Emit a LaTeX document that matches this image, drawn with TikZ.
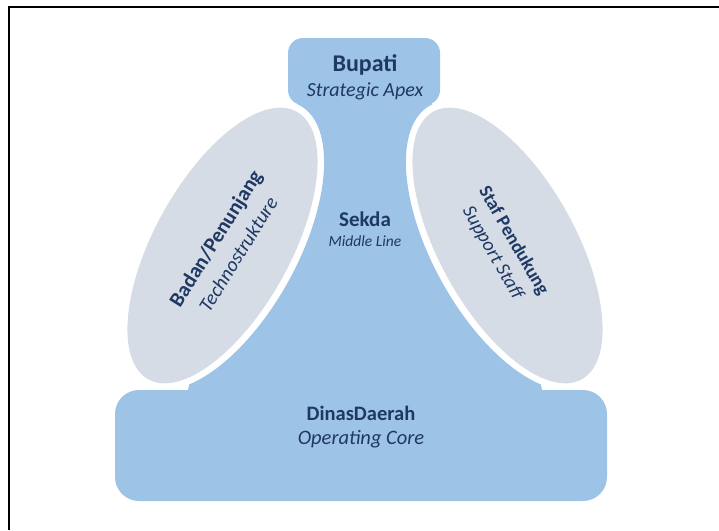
\documentclass[tikz,border=0pt]{standalone}
\usepackage{fontspec}
\setmainfont{Carlito}
\definecolor{corefill}{HTML}{9DC3E6}
\definecolor{staffill}{HTML}{D6DCE5}
\definecolor{labelblue}{HTML}{1F3864}

\begin{document}
\begin{tikzpicture}[x=1pt,y=-1pt,
  lbl/.style={text=labelblue,inner sep=0pt,anchor=base},
  unit/.style={fill=corefill},
  side/.style={fill=staffill}]
\useasboundingbox (0,0) rectangle (719,530);
\draw[line width=2pt] (9,530) -- (9,7) -- (719,7);
\coordinate (lc) at (222.5,245.5);
\coordinate (rc) at (507.5,245.5);
% apex and operating core blocks
\fill[unit,rounded corners=15pt] (288,38) rectangle (440,105);
\fill[unit,rounded corners=24pt] (115,390) rectangle (607,501);
% middle line, cut out round the two ellipses
\begin{scope}[even odd rule]
\clip (0,0) rectangle (719,530)
  (lc) circle [x radius=160pt,y radius=75pt,rotate=61]
  (rc) circle [x radius=160pt,y radius=75pt,rotate=-61];
\fill[unit] (300,100) -- (lc) -- (186,398) -- (544,398) -- (rc) -- (430,100) -- cycle;
\end{scope}
\fill[side] (lc) circle [x radius=153pt,y radius=68pt,rotate=61];
\fill[side] (rc) circle [x radius=153pt,y radius=68pt,rotate=-61];
% labels
\node[lbl,font=\fontsize{24}{28}\selectfont\bfseries] (bupati) at (365,71.7) {Bupati};
\node[lbl,font=\fontsize{20}{24}\selectfont\itshape] (apex) at (365,96.7) {Strategic Apex};
\node[lbl,font=\fontsize{21}{25}\selectfont\bfseries] (sekda) at (365,226.7) {Sekda};
\node[lbl,font=\fontsize{15.5}{19}\selectfont\itshape] (midline) at (365,246) {Middle Line};
\node[lbl,font=\fontsize{20.5}{24}\selectfont\bfseries] (dinas) at (361,420) {DinasDaerah};
\node[lbl,font=\fontsize{20.5}{24}\selectfont\itshape] (core) at (361,444) {Operating Core};
\node[lbl,rotate=58,font=\fontsize{21}{25}\selectfont\bfseries] (badan) at (221.5,242) {Badan/Penunjang};
\node[lbl,rotate=58,font=\fontsize{20}{24}\selectfont\itshape] (techno) at (244,257.7) {Technostrukture};
\node[lbl,rotate=-60,font=\fontsize{18.8}{23}\selectfont\bfseries] (staf) at (509,243.5) {Staf Pendukung};
\node[lbl,rotate=-60,font=\fontsize{19.5}{24}\selectfont\itshape] (support) at (488,255.5) {Support Staff};
\end{tikzpicture}
\end{document}
